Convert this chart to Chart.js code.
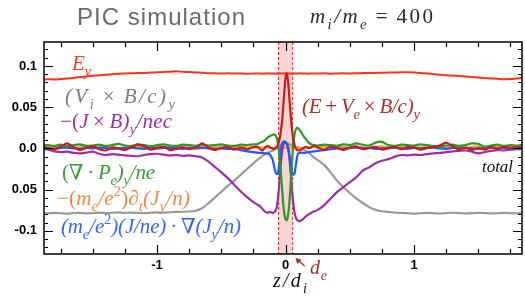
<!DOCTYPE html>
<html><head><meta charset="utf-8">
<script src="https://cdn.jsdelivr.net/npm/chart.js@4/dist/chart.umd.min.js"></script>
<style>html,body{margin:0;padding:0;background:#fff;}canvas{display:block;}</style>
</head><body>
<canvas id="c" width="525" height="298"></canvas>
<script>
// ---------- data ----------
const z = [
 -1.88,-1.85,-1.80,-1.75,-1.70,-1.65,-1.60,-1.55,-1.50,-1.45,-1.40,-1.35,-1.30,-1.25,-1.20,-1.15,-1.10,-1.05,-1.00,-0.95,-0.90,-0.85,-0.80,-0.75,-0.70,-0.65,-0.60,-0.55,-0.50,-0.45,-0.40,-0.35,-0.30,-0.25,
 -0.22,-0.20,-0.18,-0.16,-0.14,-0.12,-0.10,-0.09,-0.08,-0.07,-0.06,-0.05,-0.04,-0.03,-0.02,-0.01,0,0.01,0.02,0.03,0.04,0.05,0.06,0.07,0.08,0.09,0.10,0.12,0.14,0.16,0.18,0.20,0.22,
 0.25,0.30,0.35,0.40,0.45,0.50,0.55,0.60,0.65,0.70,0.75,0.80,0.85,0.90,0.95,1.00,1.05,1.10,1.15,1.20,1.25,1.30,1.35,1.40,1.45,1.50,1.55,1.60,1.65,1.70,1.75,1.80,1.84
];
const Ey = [
 .0835,.0838,.0836,.0842,.0847,.0855,.0866,.0872,.0880,.0887,.0893,.0899,.0906,.0908,.0912,.0915,.0913,.0919,.0922,.0926,.0930,.0934,.0929,.0925,.0921,.0918,.0912,.0910,.0908,.0911,.0907,.0909,.0905,.0908,
 .0907,.0909,.0906,.0908,.0910,.0907,.0908,.0907,.0906,.0907,.0909,.0908,.0907,.0908,.0908,.0909,.0910,.0909,.0908,.0907,.0906,.0907,.0908,.0909,.0907,.0908,.0908,.0910,.0907,.0909,.0906,.0908,.0907,
 .0908,.0910,.0906,.0909,.0911,.0908,.0912,.0913,.0915,.0914,.0917,.0919,.0921,.0923,.0922,.0920,.0915,.0908,.0901,.0894,.0888,.0882,.0877,.0871,.0866,.0860,.0855,.0849,.0844,.0839,.0841,.0848,.0853
];
const ViB = [
 -.0785,-.0788,-.0782,-.0786,-.0790,-.0784,-.0781,-.0787,-.0783,-.0779,-.0784,-.0780,-.0776,-.0781,-.0778,-.0782,-.0785,-.0780,-.0776,-.0779,-.0774,-.0770,-.0768,-.0765,-.0755,-.0725,-.0665,-.0595,-.0525,-.0455,-.0390,-.0320,-.0250,-.0180,
 -.0140,-.0115,-.0090,-.0070,-.0055,-.0040,-.0025,-.0015,-.0005,.0005,.0015,.0025,.0040,.0050,.0060,.0065,.0070,.0065,.0060,.0050,.0045,.0035,.0025,.0020,.0010,.0008,.0005,-.0005,-.0015,-.0030,-.0050,-.0080,-.0110,
 -.0140,-.0200,-.0290,-.0390,-.0470,-.0540,-.0605,-.0660,-.0710,-.0745,-.0762,-.0771,-.0778,-.0783,-.0786,-.0790,-.0786,-.0782,-.0785,-.0789,-.0784,-.0780,-.0783,-.0787,-.0785,-.0781,-.0784,-.0788,-.0786,-.0782,-.0785,-.0787,-.0784
];
const JxB = [
 -.0005,-.0015,-.0035,-.0045,-.0040,-.0055,-.0060,-.0050,-.0040,-.0065,-.0080,-.0070,-.0075,-.0085,-.0090,-.0095,-.0080,-.0070,-.0065,-.0075,-.0085,-.0080,-.0090,-.0085,-.0095,-.0110,-.0160,-.0225,-.0290,-.0360,-.0440,-.0520,-.0590,-.0650,
 -.0680,-.0700,-.0735,-.0765,-.0780,-.0770,-.0785,-.0775,-.0760,-.0720,-.0620,-.0450,-.0250,-.0080,.0030,.0060,.0065,.0050,-.0010,-.0120,-.0300,-.0500,-.0660,-.0780,-.0840,-.0870,-.0880,-.0875,-.0850,-.0820,-.0800,-.0780,-.0765,
 -.0745,-.0690,-.0610,-.0530,-.0470,-.0410,-.0350,-.0270,-.0230,-.0180,-.0150,-.0130,-.0100,-.0080,-.0085,-.0075,-.0080,-.0070,-.0060,-.0055,-.0045,-.0035,-.0030,-.0025,-.0040,-.0060,-.0045,-.0030,-.0020,-.0025,-.0015,-.0010,-.0005
];
const EVe = [
 .0010,.0005,-.0015,.0020,.0060,.0015,-.0020,.0005,.0025,-.0010,-.0025,.0010,.0000,-.0020,.0015,.0050,.0025,-.0015,.0005,.0020,-.0020,-.0005,.0015,-.0010,.0010,.0060,.0010,-.0020,.0005,.0020,-.0015,.0010,-.0010,.0015,
 .0020,-.0005,-.0025,.0010,.0030,.0010,.0000,-.0010,.0000,.0010,.0040,.0090,.0170,.0290,.0460,.0680,.0860,.0910,.0800,.0600,.0400,.0230,.0110,.0040,.0000,-.0020,-.0025,-.0015,.0005,.0020,.0000,.0015,.0035,
 .0010,-.0015,.0020,.0005,-.0020,.0010,.0025,-.0010,.0005,.0020,-.0015,.0000,.0020,-.0010,.0015,.0010,-.0015,.0005,.0020,.0035,.0070,.0025,-.0010,.0010,-.0020,.0005,-.0015,.0015,-.0005,.0020,.0005,.0015,.0010
];
const divPe = [
 .0035,.0040,.0030,.0045,.0025,.0040,.0050,.0030,.0035,.0045,.0030,.0040,.0055,.0035,.0030,.0045,.0040,.0025,.0040,.0050,.0035,.0030,.0045,.0040,.0030,.0045,.0035,.0040,.0050,.0035,.0030,.0045,.0040,.0050,
 .0050,.0070,.0080,.0100,.0130,.0150,.0165,.0170,.0160,.0130,.0060,-.0050,-.0220,-.0430,-.0640,-.0790,-.0860,-.0870,-.0800,-.0650,-.0420,-.0170,.0040,.0170,.0230,.0250,.0240,.0200,.0150,.0110,.0070,.0050,.0040,
 .0035,.0045,.0040,.0030,.0050,.0040,.0060,.0045,.0035,.0070,.0080,.0040,.0030,.0045,.0040,.0035,.0050,.0040,.0030,.0025,.0035,.0045,.0030,.0040,.0060,.0055,.0020,.0035,.0045,.0030,.0040,.0035,.0045
];
const dtJ = [
 .0015,.0020,.0010,.0025,.0015,.0005,.0020,.0030,.0015,.0010,.0025,.0020,.0005,.0015,.0030,.0020,.0010,.0015,.0025,.0010,.0020,.0015,.0005,.0020,.0030,.0015,.0010,.0020,.0025,.0010,.0015,.0020,.0010,.0015,
 .0010,.0015,.0005,.0010,.0015,.0010,.0005,.0010,.0015,.0010,.0005,.0010,.0005,.0000,.0005,.0010,.0010,.0005,.0000,.0005,.0010,.0015,.0010,.0005,.0010,.0015,.0010,.0005,.0010,.0015,.0010,.0020,.0015,
 .0015,.0020,.0010,.0025,.0015,.0010,.0020,.0015,.0005,.0020,.0025,.0015,.0010,.0020,.0030,.0015,.0010,.0020,.0015,.0025,.0010,.0020,.0015,.0005,.0020,.0025,.0010,.0015,.0020,.0010,.0015,.0020,.0015
];
const convJ = [
 .0005,.0000,-.0005,.0005,.0010,.0000,-.0005,.0005,.0000,.0010,.0005,-.0005,.0000,.0005,.0010,.0000,-.0005,.0005,.0000,.0005,.0010,.0000,-.0005,.0005,.0000,.0005,.0000,-.0005,.0000,-.0005,-.0005,-.0020,-.0035,-.0045,
 -.0050,-.0055,-.0055,-.0060,-.0060,-.0080,-.0140,-.0210,-.0280,-.0310,-.0300,-.0200,-.0060,.0040,.0080,.0085,.0080,.0060,.0010,-.0080,-.0200,-.0290,-.0320,-.0300,-.0200,-.0100,-.0060,-.0050,-.0055,-.0050,-.0045,-.0040,-.0035,
 -.0030,-.0020,-.0010,.0000,-.0005,.0005,.0010,.0000,.0005,-.0005,.0000,.0005,.0010,.0000,-.0005,.0005,.0000,.0005,.0010,.0000,-.0005,.0005,.0000,.0005,.0000,-.0005,.0005,.0010,.0000,.0005,.0000,-.0005,.0000
];
const xTickVals = [-1, 0, 1];
const xTickLabels = ['-1', '0', '1'];
const yTickVals = [-0.1, -0.05, 0, 0.05, 0.1];
const yTickLabels = ['-0.1', '0.05', '0.0', '0.05', '0.1'];
const deBand = [-0.055, 0.055];

// ---------- rich text helper ----------
const SERIF = '"Liberation Serif", "DejaVu Serif", serif';
const TS = '\u2009';
function drawRich(ctx, segs, x, y, size, color, targetW, family) {
  family = family || SERIF;
  const chars = [];
  segs.forEach(s => {
    const t = s[0], st = s[1] || '';
    let fs = size, dy = 0, style = 'italic ';
    if (st.includes('u')) style = '';
    if (st.includes('b')) { fs = size * 0.7; dy = size * 0.28; }
    if (st.includes('p')) { fs = size * 0.7; dy = -size * 0.42; style = ''; }
    const font = style + fs + 'px ' + family;
    for (const ch of t) {
      ctx.font = font;
      chars.push({ ch, font, dy, w: ctx.measureText(ch).width });
    }
  });
  const nat = chars.reduce((a, c) => a + c.w, 0);
  let extra = 0;
  if (targetW && chars.length > 1) extra = (targetW - nat) / (chars.length - 1);
  ctx.save();
  ctx.fillStyle = color;
  ctx.textBaseline = 'alphabetic';
  ctx.textAlign = 'left';
  let cx = x;
  chars.forEach(c => { ctx.font = c.font; ctx.fillText(c.ch, cx, y + c.dy); cx += c.w + extra; });
  ctx.restore();
}

// ---------- plugins ----------
const bandPlugin = {
  id: 'band',
  beforeDatasetsDraw(chart) {
    const { ctx, chartArea: a, scales: { x } } = chart;
    const x0 = x.getPixelForValue(deBand[0]), x1 = x.getPixelForValue(deBand[1]);
    ctx.save();
    ctx.fillStyle = 'rgba(242,190,186,0.65)';
    ctx.fillRect(x0, a.top, x1 - x0, a.bottom - a.top);
    ctx.strokeStyle = '#dd3030';
    ctx.lineWidth = 1;
    ctx.setLineDash([3, 2]);
    [x0, x1].forEach(px => { ctx.beginPath(); ctx.moveTo(px, a.top); ctx.lineTo(px, a.bottom); ctx.stroke(); });
    ctx.restore();
  }
};
const framePlugin = {
  id: 'frame',
  afterDraw(chart) {
    const { ctx, chartArea: a, scales: { x, y } } = chart;
    ctx.save();
    ctx.strokeStyle = '#000';
    ctx.lineWidth = 1.2;
    ctx.beginPath();
    for (let k = -7; k <= 7; k++) {
      const v = k * 0.25;
      const px = Math.round(x.getPixelForValue(v)) + 0.5;
      const len = (k % 4 === 0) ? 9 : 5;
      ctx.moveTo(px, a.bottom); ctx.lineTo(px, a.bottom - len);
      ctx.moveTo(px, a.top); ctx.lineTo(px, a.top + len);
    }
    for (let k = -12; k <= 12; k++) {
      const v = k * 0.01;
      const py = Math.round(y.getPixelForValue(v)) + 0.5;
      const len = (k % 5 === 0) ? 9 : 4;
      ctx.moveTo(a.left, py); ctx.lineTo(a.left + len, py);
      ctx.moveTo(a.right, py); ctx.lineTo(a.right - len, py);
    }
    ctx.stroke();
    ctx.lineWidth = 1.5;
    ctx.strokeRect(a.left, a.top, a.right - a.left, a.bottom - a.top);

    // titles
    drawRich(ctx, [['PIC simulation', 'u']], 77, 25, 24, '#6a6a6a', 168, '"Liberation Sans", Arial, sans-serif');
    drawRich(ctx, [['m'], ['i', 'b'], ['/m'], ['e', 'b'], [TS + '=' + TS + '400', 'u']], 310, 23, 21, '#2a2a2a', 123);

    // series labels
    const L = 21;
    const X = TS + '×' + TS;
    drawRich(ctx, [['E'], ['y', 'b']], 72, 70, L, '#ff3b1f', 19);
    drawRich(ctx, [['('], ['V'], ['i', 'b'], [X, 'u'], ['B/c)'], ['y', 'b']], 65, 103, L, '#7a7a7a', 110);
    drawRich(ctx, [['−(', 'u'], ['J'], [X, 'u'], ['B)'], ['y', 'b'], ['/nec']], 60, 128, L, '#9b30a0', 112);
    drawRich(ctx, [['(∇' + TS + '·' + TS, 'u'], ['P'], ['e', 'b'], [')'], ['y', 'b'], ['/ne']], 62, 179, L, '#3d9a35', 93);
    drawRich(ctx, [['−(', 'u'], ['m'], ['e', 'b'], ['/e'], ['2', 'p'], [')∂', 'u'], ['t', 'b'], ['(J'], ['y', 'b'], ['/n)']], 57, 205, L, '#e8894a', 133);
    drawRich(ctx, [['(m'], ['e', 'b'], ['/e'], ['2', 'p'], [')(J/ne)'], [TS + '·' + TS + '∇', 'u'], ['(J'], ['y', 'b'], ['/n)']], 61, 233, L, '#3a62ff', 180);
    drawRich(ctx, [['(E'], [TS + '+' + TS, 'u'], ['V'], ['e', 'b'], [X, 'u'], ['B/c)'], ['y', 'b']], 302, 113, L, '#a8322a', 118);
    drawRich(ctx, [['total']], 482, 172, 17, '#111', 31);

    // axis title and d_e annotation
    drawRich(ctx, [['z/d'], ['i', 'b']], 273, 287, 20, '#111', 34);
    drawRich(ctx, [['d'], ['e', 'b']], 310, 274, 20, '#a8322a', 17);
    const tipX = x.getPixelForValue(deBand[1]) + 3, tipY = a.bottom + 4;
    ctx.strokeStyle = '#a8322a'; ctx.fillStyle = '#a8322a'; ctx.lineWidth = 1.3;
    ctx.beginPath(); ctx.moveTo(tipX + 9, tipY + 8); ctx.lineTo(tipX + 2, tipY + 2); ctx.stroke();
    ctx.beginPath(); ctx.moveTo(tipX, tipY); ctx.lineTo(tipX + 6, tipY + 1.5); ctx.lineTo(tipX + 1.5, tipY + 6); ctx.closePath(); ctx.fill();
    ctx.restore();
  }
};

// ---------- chart ----------
const mk = (label, arr, color, w) => ({
  label, data: z.map((v, i) => ({ x: v, y: arr[i] })),
  borderColor: color, borderWidth: w, pointRadius: 0, fill: false, tension: 0.25
});
const tickFont = { family: '"Liberation Sans", Arial, sans-serif', weight: 'bold', size: 13 };
new Chart(document.getElementById('c').getContext('2d'), {
  type: 'line',
  data: {
    datasets: [
      mk('(E + Ve×B/c)y', EVe, '#cc1a1a', 2.2),
      mk('(∇·Pe)y/ne', divPe, '#2a9a22', 2.2),
      mk('(me/e²)(J/ne)·∇(Jy/n)', convJ, '#2255ff', 2.2),
      mk('−(J×B)y/nec', JxB, '#9c2ea6', 2.2),
      mk('−(me/e²)∂t(Jy/n)', dtJ, '#ffa020', 2.2),
      mk('(Vi×B/c)y', ViB, '#9a9a9a', 2.2),
      mk('Ey', Ey, '#ff3418', 2)
    ]
  },
  options: {
    responsive: false, animation: false, devicePixelRatio: 1,
    layout: { padding: { top: 42, right: 3, left: 0, bottom: 0 } },
    plugins: { legend: { display: false }, tooltip: { enabled: false }, title: { display: false } },
    scales: {
      x: {
        type: 'linear', min: -1.88, max: 1.84,
        grid: { display: false, drawTicks: false }, border: { display: false },
        afterBuildTicks: s => { s.ticks = xTickVals.map(v => ({ value: v })); },
        afterFit: s => { s.height = 44; },
        ticks: { padding: 4, font: tickFont, color: '#000', maxRotation: 0,
          callback: v => xTickLabels[xTickVals.indexOf(v)] }
      },
      y: {
        type: 'linear', min: -0.128, max: 0.129,
        grid: { display: false, drawTicks: false }, border: { display: false },
        afterBuildTicks: s => { s.ticks = yTickVals.map(v => ({ value: v })); },
        afterFit: s => { s.width = 44; },
        ticks: { padding: 7, font: tickFont, color: '#000',
          callback: v => yTickLabels[yTickVals.indexOf(v)] }
      }
    }
  },
  plugins: [bandPlugin, framePlugin]
});
</script>
</body></html>
